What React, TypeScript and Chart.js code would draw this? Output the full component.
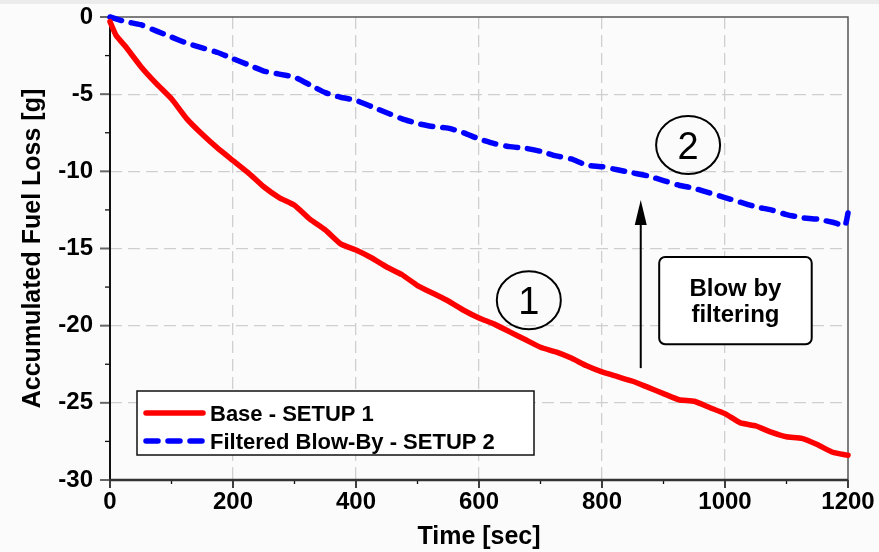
import { useEffect, useRef } from "react";
import { Chart, registerables } from "chart.js";

Chart.register(...registerables);

// ---- Data ----
const baseTimes = [0, 10, 25, 50, 75, 100, 125, 150, 175, 200, 225, 250, 275, 300, 325, 350, 375, 400, 425, 450, 475, 500, 525, 550, 575, 600, 625, 650, 675, 700, 725, 750, 775, 800, 825, 850, 875, 900, 925, 950, 975, 1000, 1025, 1050, 1075, 1100, 1125, 1150, 1175, 1200];
const baseLoss = [-0.3, -1.2, -1.9, -3.2, -4.3, -5.3, -6.6, -7.6, -8.5, -9.3, -10.1, -11.0, -11.7, -12.2, -13.1, -13.8, -14.7, -15.1, -15.6, -16.2, -16.7, -17.4, -17.9, -18.4, -19.0, -19.5, -19.9, -20.4, -20.9, -21.4, -21.7, -22.1, -22.6, -23.0, -23.3, -23.6, -24.0, -24.4, -24.8, -24.9, -25.3, -25.7, -26.3, -26.5, -26.9, -27.2, -27.3, -27.7, -28.2, -28.4];

const filteredTimes = [0, 25, 50, 75, 100, 125, 150, 175, 200, 225, 250, 275, 300, 325, 350, 375, 400, 425, 450, 475, 500, 525, 550, 575, 600, 625, 650, 675, 700, 725, 750, 775, 800, 825, 850, 875, 900, 925, 950, 975, 1000, 1025, 1050, 1075, 1100, 1125, 1150, 1175, 1195, 1200];
const filteredLoss = [0, -0.3, -0.5, -0.9, -1.3, -1.7, -2.0, -2.3, -2.7, -3.1, -3.5, -3.7, -3.9, -4.4, -4.9, -5.2, -5.4, -5.8, -6.2, -6.6, -6.9, -7.1, -7.2, -7.5, -7.9, -8.2, -8.4, -8.5, -8.7, -9.0, -9.2, -9.6, -9.7, -9.9, -10.1, -10.3, -10.6, -10.9, -11.1, -11.4, -11.7, -12.0, -12.3, -12.5, -12.8, -13.0, -13.1, -13.3, -13.5, -12.7];

const seriesLabels = ["Base - SETUP 1", "Filtered Blow-By - SETUP 2"];
const xRange = [0, 1200];
const yRange = [-30, 0];
const xMajorStep = 200;
const xMinorStep = 100;
const yMajorStep = 5;
const yMinorStep = 2.5;

// annotations (data coordinates)
const circleNotes = [
  { t: 681, v: -18.35, text: "1" },
  { t: 940, v: -8.3, text: "2" },
];
const arrowNote = { t: 863, from: -22.75, to: -11.86 };
const boxNote = { t0: 893, t1: 1141, v0: -15.55, v1: -21.2, lines: ["Blow by", "filtering"] };

const FONT = "'Liberation Sans', Arial, Helvetica, sans-serif";

const overlayPlugin = {
  id: "overlay",
  beforeDatasetsDraw(chart: any) {
    const { ctx, chartArea: a, scales } = chart;
    const x = scales.x;
    const y = scales.y;
    ctx.save();
    // top & right frame
    ctx.strokeStyle = "#555";
    ctx.lineWidth = 1.5;
    ctx.beginPath();
    ctx.moveTo(a.left, a.top);
    ctx.lineTo(a.right, a.top);
    ctx.lineTo(a.right, a.bottom);
    ctx.stroke();
    // ticks on y
    for (let v = yRange[0]; v <= yRange[1] + 1e-9; v += yMinorStep) {
      const major = Math.abs(v / yMajorStep - Math.round(v / yMajorStep)) < 1e-6;
      const py = y.getPixelForValue(v);
      ctx.strokeStyle = major ? "#666" : "#111";
      ctx.lineWidth = major ? 2 : 1.3;
      ctx.beginPath();
      ctx.moveTo(a.left - (major ? 10 : 5), py);
      ctx.lineTo(a.left, py);
      ctx.stroke();
    }
    // ticks on x
    for (let t = xRange[0]; t <= xRange[1] + 1e-9; t += xMinorStep) {
      const major = t % xMajorStep === 0;
      const px = x.getPixelForValue(t);
      ctx.strokeStyle = "#111";
      ctx.lineWidth = major ? 1.6 : 1.3;
      ctx.beginPath();
      ctx.moveTo(px, a.bottom);
      ctx.lineTo(px, a.bottom + (major ? 8 : 4));
      ctx.stroke();
    }
    // left & bottom axis
    ctx.strokeStyle = "#111";
    ctx.lineWidth = 2;
    ctx.beginPath();
    ctx.moveTo(a.left, a.top);
    ctx.lineTo(a.left, a.bottom);
    ctx.stroke();
    ctx.strokeStyle = "#333";
    ctx.lineWidth = 2.5;
    ctx.beginPath();
    ctx.moveTo(a.left - 1, a.bottom);
    ctx.lineTo(a.right, a.bottom);
    ctx.stroke();
    ctx.restore();
  },
  afterDatasetsDraw(chart: any) {
    const { ctx, chartArea: a, scales } = chart;
    const x = scales.x;
    const y = scales.y;
    ctx.save();
    // circles
    for (const c of circleNotes) {
      const cx = x.getPixelForValue(c.t);
      const cy = y.getPixelForValue(c.v);
      ctx.beginPath();
      ctx.ellipse(cx, cy, 32, 29, 0, 0, Math.PI * 2);
      ctx.strokeStyle = "#000";
      ctx.lineWidth = 2;
      ctx.stroke();
      ctx.fillStyle = "#000";
      ctx.font = `38px ${FONT}`;
      ctx.textAlign = "center";
      ctx.textBaseline = "alphabetic";
      ctx.fillText(c.text, cx, cy + 13.5);
    }
    // arrow
    const ax = x.getPixelForValue(arrowNote.t);
    const ay0 = y.getPixelForValue(arrowNote.from);
    const ay1 = y.getPixelForValue(arrowNote.to);
    ctx.strokeStyle = "#000";
    ctx.lineWidth = 2;
    ctx.beginPath();
    ctx.moveTo(ax, ay0);
    ctx.lineTo(ax, ay1 + 20);
    ctx.stroke();
    ctx.fillStyle = "#000";
    ctx.beginPath();
    ctx.moveTo(ax, ay1);
    ctx.lineTo(ax - 6, ay1 + 25);
    ctx.lineTo(ax + 6, ay1 + 25);
    ctx.closePath();
    ctx.fill();
    // box
    const bx0 = x.getPixelForValue(boxNote.t0);
    const bx1 = x.getPixelForValue(boxNote.t1);
    const by0 = y.getPixelForValue(boxNote.v0);
    const by1 = y.getPixelForValue(boxNote.v1);
    ctx.beginPath();
    (ctx as any).roundRect(bx0, by0, bx1 - bx0, by1 - by0, 6);
    ctx.fillStyle = "#ffffff";
    ctx.fill();
    ctx.strokeStyle = "#000";
    ctx.lineWidth = 2;
    ctx.stroke();
    ctx.fillStyle = "#000";
    ctx.font = `bold 24px ${FONT}`;
    ctx.textAlign = "center";
    ctx.textBaseline = "alphabetic";
    const bcx = (bx0 + bx1) / 2;
    const bcy = (by0 + by1) / 2;
    ctx.fillText(boxNote.lines[0], bcx, bcy - 4.5);
    ctx.fillText(boxNote.lines[1], bcx, bcy + 21.5);

    // legend
    const lx = a.left + 27;
    const ly = a.bottom - 89;
    const lw = 397;
    const lh = 64;
    ctx.fillStyle = "#ffffff";
    ctx.fillRect(lx, ly, lw, lh);
    ctx.strokeStyle = "#111";
    ctx.lineWidth = 1.5;
    ctx.strokeRect(lx, ly, lw, lh);
    const ds = chart.data.datasets;
    const rows = [ly + 22, ly + 50];
    ds.forEach((d: any, i: number) => {
      ctx.save();
      ctx.strokeStyle = d.borderColor;
      ctx.lineWidth = d.borderWidth;
      ctx.lineCap = "round";
      ctx.setLineDash(d.borderDash || []);
      ctx.beginPath();
      ctx.moveTo(lx + 9, rows[i]);
      ctx.lineTo(lx + 66, rows[i]);
      ctx.stroke();
      ctx.restore();
      ctx.fillStyle = "#000";
      ctx.font = `bold 22px ${FONT}`;
      ctx.textAlign = "left";
      ctx.textBaseline = "alphabetic";
      ctx.fillText(d.label, lx + 73, rows[i] + 8);
    });
    ctx.restore();
  },
};

export default function App() {
  const ref = useRef<HTMLCanvasElement | null>(null);
  useEffect(() => {
    document.body.style.margin = "0";
    document.body.style.background = "#fbfbfb";
    const canvas = ref.current;
    if (!canvas) return;
    const gridColor = (limits: number[]) => (c: any) =>
      c.tick && (c.tick.value === limits[0] || c.tick.value === limits[1]) ? "rgba(0,0,0,0)" : "#cfcfcf";
    const chart = new Chart(canvas, {
      type: "line",
      data: {
        datasets: [
          {
            label: seriesLabels[0],
            data: baseTimes.map((t, i) => ({ x: t, y: baseLoss[i] })),
            borderColor: "#ff0000",
            borderWidth: 5.5,
            pointRadius: 0,
            tension: 0.15,
            borderCapStyle: "round",
            borderJoinStyle: "round",
            clip: false,
          },
          {
            label: seriesLabels[1],
            data: filteredTimes.map((t, i) => ({ x: t, y: filteredLoss[i] })),
            borderColor: "#0000ff",
            borderWidth: 5.5,
            borderDash: [12, 10],
            pointRadius: 0,
            tension: 0.15,
            borderCapStyle: "round",
            borderJoinStyle: "round",
            clip: false,
          },
        ] as any,
      },
      options: {
        responsive: false,
        animation: false,
        layout: { padding: { top: 17, right: 31, left: 0, bottom: 0 } },
        plugins: { legend: { display: false }, tooltip: { enabled: false } },
        scales: {
          x: {
            type: "linear",
            min: xRange[0],
            max: xRange[1],
            afterFit: (s: any) => {
              s.height = 72;
              s.paddingLeft = 0;
              s.paddingRight = 0;
            },
            ticks: {
              stepSize: xMajorStep,
              font: { family: FONT, size: 24, weight: "bold" },
              color: "#000",
              padding: 8,
              maxRotation: 0,
              autoSkip: false,
              callback: (v: any) => String(v),
            },
            grid: { color: gridColor(xRange), lineWidth: 1.3, drawTicks: false },
            border: { display: false, dash: [12, 6] },
            title: {
              display: true,
              text: "Time [sec]",
              font: { family: FONT, size: 25, weight: "bold" },
              color: "#000",
              padding: { top: 0, bottom: 0 },
            },
          },
          y: {
            type: "linear",
            min: yRange[0],
            max: yRange[1],
            afterFit: (s: any) => {
              s.width = 110;
              s.paddingTop = 0;
              s.paddingBottom = 0;
            },
            ticks: {
              stepSize: yMajorStep,
              font: { family: FONT, size: 24, weight: "bold" },
              color: "#000",
              padding: 17,
              autoSkip: false,
              callback: (v: any) => String(v),
            },
            grid: { color: gridColor(yRange), lineWidth: 1.3, drawTicks: false },
            border: { display: false, dash: [12, 6] },
            title: {
              display: true,
              text: "Accumulated Fuel Loss [g]",
              font: { family: FONT, size: 25, weight: "bold" },
              color: "#000",
              padding: { top: 18, bottom: 0 },
            },
          },
        },
      } as any,
      plugins: [overlayPlugin],
    });
    return () => chart.destroy();
  }, []);
  return (
    <div style={{ position: "relative", width: 879, height: 552 }}>
      <div style={{ position: "absolute", left: 0, top: 0, width: 879, height: 4, background: "#ececec" }} />
      <canvas ref={ref} width={879} height={552} style={{ display: "block" }} />
    </div>
  );
}
